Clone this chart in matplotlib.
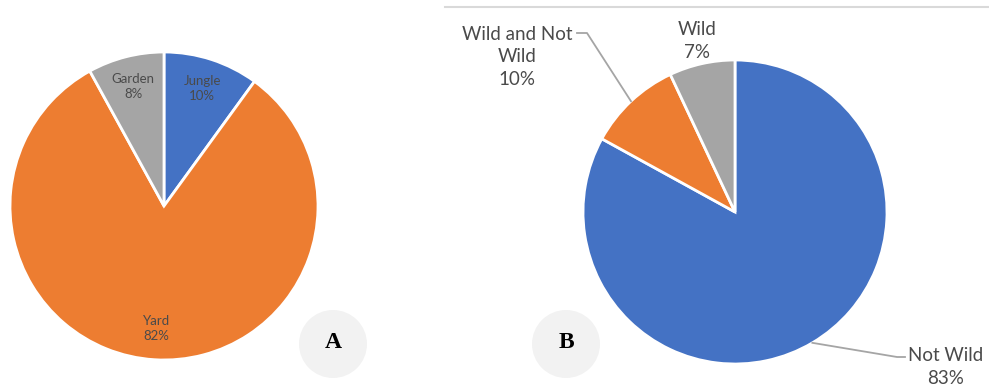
import numpy as np
import matplotlib.pyplot as plt
from matplotlib.patches import Circle

# Panel A: where the plants were found
lugares = ['Jungle', 'Yard', 'Garden']
pct_lugares = [10, 82, 8]

# Panel B: wild status
estado = ['Not Wild', 'Wild and Not Wild', 'Wild']
pct_estado = [83, 10, 7]

colores = ['#4472C4', '#ED7D31', '#A5A5A5']
texto = '#4A4A4A'
plt.rcParams['font.family'] = ['Lato', 'DejaVu Sans']

W, H = 989, 385
fig = plt.figure(figsize=(W / 100, H / 100), dpi=100)
ax = fig.add_axes([0, 0, 1, 1])


def yy(y):
    # coordenadas de imagen (y hacia abajo) a datos
    return H - y


# Pie A
cA, rA = (164, yy(206)), 154
wedgesA, textsA = ax.pie(pct_lugares, colors=colores, startangle=90, counterclock=False,
                         center=cA, radius=rA, labels=[f'{l}\n{p}%' for l, p in zip(lugares, pct_lugares)],
                         labeldistance=0.8,
                         wedgeprops=dict(edgecolor='white', linewidth=2),
                         textprops=dict(color=texto, fontsize=9.5, ha='center', va='center',
                                        linespacing=1.3))

# Pie B
cB, rB = (735, yy(212)), 152
wedgesB, _ = ax.pie(pct_estado, colors=colores, startangle=90, counterclock=False,
                    center=cB, radius=rB,
                    wedgeprops=dict(edgecolor='white', linewidth=2))

# Etiquetas de B con lineas guia
def punto_medio(w, r, c):
    ang = np.deg2rad((w.theta1 + w.theta2) / 2)
    return c[0] + r * np.cos(ang), c[1] + r * np.sin(ang)

kw = dict(color=texto, fontsize=13.5, ha='center', va='center', linespacing=1.4)
lbl = [f'{estado[0]}\n{pct_estado[0]}%', 'Wild and Not\nWild\n' + f'{pct_estado[1]}%',
       f'{estado[2]}\n{pct_estado[2]}%']

# Not Wild
x0, y0 = punto_medio(wedgesB[0], rB, cB)
ax.plot([x0, 897, 905], [y0, yy(357), yy(357)], color='#A5A5A5', lw=1.3)
ax.text(946, yy(367), lbl[0], **kw)
# Wild and Not Wild
x1, y1 = punto_medio(wedgesB[1], rB, cB)
ax.plot([x1, 587, 577], [y1, yy(33), yy(33)], color='#A5A5A5', lw=1.3)
ax.text(517, yy(57), lbl[1], **kw)
# Wild
ax.text(697, yy(41), lbl[2], **kw)

# Linea superior
ax.plot([445, W], [yy(7), yy(7)], color='#D9D9D9', lw=1.5)

# Letras de panel
for (cx, cy), letra in [((333, 344), 'A'), ((566, 344), 'B')]:
    ax.add_patch(Circle((cx, yy(cy)), 34, facecolor='#F2F2F2', edgecolor='none'))
    ax.text(cx, yy(cy) + 1, letra, fontsize=17, fontweight='bold', family='Liberation Serif',
            ha='center', va='center', color='black')

ax.set_xlim(0, W)
ax.set_ylim(0, H)
ax.set_aspect('equal')
ax.axis('off')

plt.savefig('out.png', dpi=100)
